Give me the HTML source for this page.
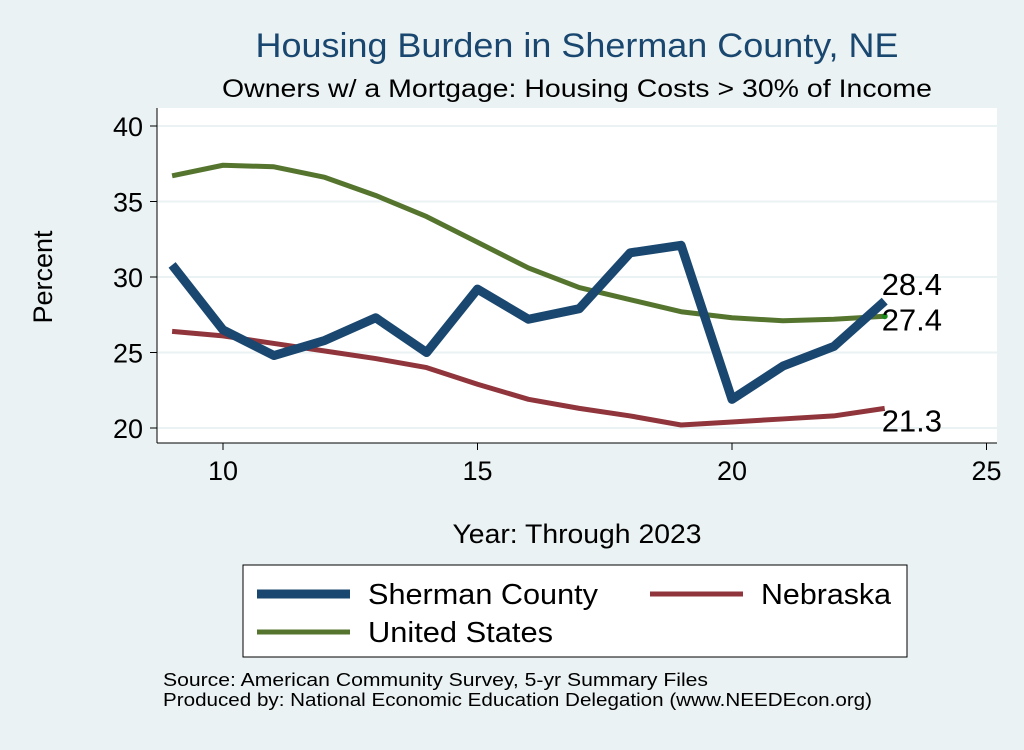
<!DOCTYPE html>
<html><head><meta charset="utf-8"><style>
body{margin:0;background:#eaf2f3;font-family:"Liberation Sans",sans-serif;}
</style></head><body>
<svg width="1024" height="745" viewBox="0 0 1024 745" xmlns="http://www.w3.org/2000/svg" font-family="Liberation Sans, sans-serif">
<rect x="0" y="0" width="1024" height="745" fill="#eaf2f3"/>
<text x="577" y="57" font-size="34" fill="#1a476f" text-anchor="middle" textLength="643" lengthAdjust="spacingAndGlyphs">Housing Burden in Sherman County, NE</text>
<text x="577" y="97" font-size="25" fill="#000" text-anchor="middle" textLength="710" lengthAdjust="spacingAndGlyphs">Owners w/ a Mortgage: Housing Costs &gt; 30% of Income</text>
<rect x="157" y="108" width="840" height="335" fill="#fff"/>
<g id="grid"></g>
<line x1="157" y1="108" x2="157" y2="443" stroke="#000" stroke-width="1"/>
<line x1="157" y1="443" x2="997" y2="443" stroke="#000" stroke-width="1"/>
<g id="ticks"></g>
<g id="series"></g>
<text x="52" y="277" font-size="27" text-anchor="middle" transform="rotate(-90 52 277)">Percent</text>
<text x="577" y="543" font-size="27" text-anchor="middle" textLength="249" lengthAdjust="spacingAndGlyphs">Year: Through 2023</text>
<g>
<rect x="243" y="565" width="664" height="92" fill="#fff" stroke="#000" stroke-width="1"/>
<line x1="257" y1="594" x2="350" y2="594" stroke="#1a476f" stroke-width="9"/>
<text x="368" y="604" font-size="29" textLength="230" lengthAdjust="spacingAndGlyphs">Sherman County</text>
<line x1="650" y1="594" x2="743" y2="594" stroke="#90353b" stroke-width="5"/>
<text x="761" y="604" font-size="29" textLength="130" lengthAdjust="spacingAndGlyphs">Nebraska</text>
<line x1="257" y1="632" x2="350" y2="632" stroke="#55752f" stroke-width="5"/>
<text x="368" y="642" font-size="29" textLength="185" lengthAdjust="spacingAndGlyphs">United States</text>
</g>
<text x="163" y="686" font-size="18" textLength="545" lengthAdjust="spacingAndGlyphs">Source: American Community Survey, 5-yr Summary Files</text>
<text x="163" y="706" font-size="18" textLength="709" lengthAdjust="spacingAndGlyphs">Produced by: National Economic Education Delegation (www.NEEDEcon.org)</text>
</svg>
<script>
const years=[9,10,11,12,13,14,15,16,17,18,19,20,21,22,23];
const sherman=[30.8,26.5,24.8,25.8,27.3,25.0,29.2,27.2,27.9,31.6,32.1,21.9,24.1,25.4,28.4];
const nebraska=[26.4,26.1,25.6,25.1,24.6,24.0,22.9,21.9,21.3,20.8,20.2,20.4,20.6,20.8,21.3];
const us=[36.7,37.4,37.3,36.6,35.4,34.0,32.3,30.6,29.3,28.5,27.7,27.3,27.1,27.2,27.4];
const yTicks=[20,25,30,35,40];
const xTicks=[10,15,20,25];
const NS="http://www.w3.org/2000/svg";
function xs(v){return 223+(v-10)*50.9;}
function ys(v){return 428-(v-20)*15.1;}
const grid=document.getElementById('grid'),ticks=document.getElementById('ticks'),ser=document.getElementById('series');
function mk(tag,attrs,parent){const e=document.createElementNS(NS,tag);for(const k in attrs)e.setAttribute(k,attrs[k]);parent.appendChild(e);return e;}
yTicks.forEach(t=>{
 const g=mk('line',{x1:157,x2:997,y1:ys(t),y2:ys(t),stroke:'#eaf2f3','stroke-width':2},grid);
 
 
 const tk=mk('line',{x1:150,x2:157,y1:ys(t),y2:ys(t),stroke:'#000'},ticks);
 
 
 const tx=mk('text',{x:143,y:ys(t)+10,'font-size':27,'text-anchor':'end'},ticks);tx.textContent=t;
 
 
});
xTicks.forEach(t=>{
 const tk=mk('line',{x1:xs(t),x2:xs(t),y1:443,y2:450,stroke:'#000'},ticks);
 
 
 const tx=mk('text',{x:xs(t),y:480,'font-size':27,'text-anchor':'middle'},ticks);tx.textContent=t;
 
 
});
function line(vals,color,w,name){
 const p=mk('polyline',{points:vals.map((v,i)=>xs(years[i])+','+ys(v)).join(' '),fill:'none',stroke:color,'stroke-width':w,'stroke-linejoin':'round'},ser);
 
 
}
line(us,'#55752f',5,'us-line');
line(nebraska,'#90353b',5,'nebraska-line');
line(sherman,'#1a476f',9,'sherman-line');
const last=years.length-1;
const dot=mk('circle',{cx:xs(years[last]),cy:ys(us[last]),r:3,fill:'#1a8a1a'},ser);


[[sherman,-6,'sherman-end-label'],[us,14,'us-end-label'],[nebraska,23,'nebraska-end-label']].forEach(([a,dy,n])=>{
 const t=mk('text',{x:xs(years[last])-3,y:ys(a[last])+dy,'font-size':31},ser);
 t.textContent=a[last].toFixed(1);
 
 
});
</script>
</body></html>
